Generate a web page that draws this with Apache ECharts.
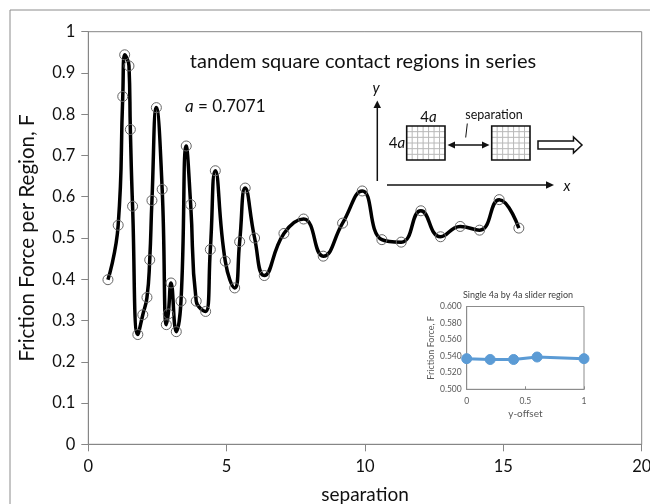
<!DOCTYPE html>
<html>
<head>
<meta charset="utf-8">
<script src="https://cdn.jsdelivr.net/npm/echarts@6/dist/echarts.min.js"></script>
<style>
html,body{margin:0;padding:0;background:#fff;}
#chart{width:650px;height:504px;}
</style>
</head>
<body>
<div id="chart"></div>
<script>
// ---- data ----
var separation = [0.71, 1.08, 1.245, 1.315, 1.47, 1.52, 1.60, 1.79, 1.97, 2.12, 2.22, 2.30, 2.46, 2.67, 2.82, 2.89, 2.99, 3.18, 3.35, 3.54, 3.70, 3.90, 4.24, 4.41, 4.59, 4.95, 5.29, 5.47, 5.67, 6.01, 6.36, 7.07, 7.78, 8.49, 9.19, 9.90, 10.61, 11.31, 12.02, 12.73, 13.44, 14.14, 14.85, 15.56];
var friction = [0.399, 0.531, 0.843, 0.944, 0.917, 0.763, 0.577, 0.266, 0.314, 0.356, 0.447, 0.591, 0.816, 0.618, 0.290, 0.316, 0.391, 0.273, 0.347, 0.723, 0.581, 0.347, 0.322, 0.472, 0.663, 0.444, 0.379, 0.491, 0.621, 0.500, 0.409, 0.511, 0.546, 0.456, 0.536, 0.614, 0.496, 0.490, 0.566, 0.503, 0.528, 0.519, 0.593, 0.524];
var yOffset = [0, 0.2, 0.4, 0.6, 1];
var singleFriction = [0.537, 0.536, 0.536, 0.539, 0.537];
var xTickLabels = ['0', '5', '10', '15', '20'];
var titleText = 'tandem square contact regions in series';
var insetTitle = 'Single 4a by 4a slider region';

var FONT = 'Lato, "Open Sans", sans-serif';
var AX = '#868686';

// diagram helper: grid squares (decoration)
function gridSquare(x, y, w, h, n, m) {
  var els = [];
  for (var i = 1; i < n; i++) {
    var gx = x + w * i / n;
    els.push({type:'line', shape:{x1:gx, y1:y, x2:gx, y2:y+h}, style:{stroke:'#b8b8b8', lineWidth:1}, z:10});
  }
  for (var j = 1; j < m; j++) {
    var gy = y + h * j / m;
    els.push({type:'line', shape:{x1:x, y1:gy, x2:x+w, y2:gy}, style:{stroke:'#b8b8b8', lineWidth:1}, z:10});
  }
  els.push({type:'rect', shape:{x:x, y:y, width:w, height:h}, style:{fill:'none', stroke:'#111', lineWidth:1.6}, z:11});
  return els;
}

var graphics = [
  {type:'rect', shape:{x:10, y:10, width:700, height:600}, style:{fill:'none', stroke:'#8c8c8c', lineWidth:1}, z:0, silent:true},
  {type:'text', x:363, y:62, style:{text:titleText, font:'20px ' + FONT, fill:'#111', textAlign:'center', textVerticalAlign:'middle'}, z:20},
  {type:'text', x:185, y:107, style:{text:'{i|a} = 0.7071', font:'17px ' + FONT, fill:'#111', textAlign:'left', textVerticalAlign:'middle', rich:{i:{fontStyle:'italic', fontSize:17, fontFamily:FONT}}}, z:20},
  // y arrow
  {type:'line', shape:{x1:377.3, y1:181, x2:377.3, y2:106}, style:{stroke:'#111', lineWidth:1.5}, z:20},
  {type:'polygon', shape:{points:[[373.5,108],[381,108],[377.3,100.5]]}, style:{fill:'#111'}, z:20},
  {type:'text', x:376, y:88, style:{text:'y', font:'italic 15px ' + FONT, fill:'#111', textAlign:'center', textVerticalAlign:'middle'}, z:20},
  // x arrow
  {type:'line', shape:{x1:387, y1:185, x2:548, y2:185}, style:{stroke:'#111', lineWidth:1.5}, z:20},
  {type:'polygon', shape:{points:[[546,181.3],[546,188.7],[554,185]]}, style:{fill:'#111'}, z:20},
  {type:'text', x:567, y:186, style:{text:'x', font:'italic 15px ' + FONT, fill:'#111', textAlign:'center', textVerticalAlign:'middle'}, z:20},
  // labels
  {type:'text', x:428.5, y:117, style:{text:'4{i|a}', font:'15px ' + FONT, fill:'#111', textAlign:'center', textVerticalAlign:'middle', rich:{i:{fontStyle:'italic', fontSize:15, fontFamily:FONT}}}, z:20},
  {type:'text', x:397, y:143, style:{text:'4{i|a}', font:'15px ' + FONT, fill:'#111', textAlign:'center', textVerticalAlign:'middle', rich:{i:{fontStyle:'italic', fontSize:15, fontFamily:FONT}}}, z:20},
  {type:'text', x:494, y:115, style:{text:'separation', font:'12.5px ' + FONT, fill:'#111', textAlign:'center', textVerticalAlign:'middle'}, z:20},
  {type:'line', shape:{x1:467.3, y1:123.5, x2:465.7, y2:137.5}, style:{stroke:'#111', lineWidth:1}, z:20},
  // double arrow
  {type:'line', shape:{x1:452, y1:145, x2:485, y2:145}, style:{stroke:'#111', lineWidth:1.5}, z:20},
  {type:'polygon', shape:{points:[[447.5,145],[455,141.5],[455,148.5]]}, style:{fill:'#111'}, z:20},
  {type:'polygon', shape:{points:[[489.5,145],[482,141.5],[482,148.5]]}, style:{fill:'#111'}, z:20},
  // hollow arrow
  {type:'polygon', shape:{points:[[538,141],[573.5,141],[573.5,137],[582,145],[573.5,153],[573.5,149],[538,149]]}, style:{fill:'#fff', stroke:'#111', lineWidth:1.5}, z:20},
  {type:'text', x:518, y:295, style:{text:insetTitle, font:'9px ' + FONT, fill:'#404040', textAlign:'center', textVerticalAlign:'middle'}, z:20}
];
graphics = graphics.concat(gridSquare(406.7, 126, 38.3, 34, 7, 6), gridSquare(491.7, 126, 38.3, 34, 7, 6));

var chart = echarts.init(document.getElementById('chart'), null, {renderer:'canvas'});
chart.setOption({
  animation: false,
  backgroundColor: '#fff',
  textStyle: {fontFamily: FONT},
  grid: [
    {left: 88.3, right: 8.3, top: 31.7, bottom: 59.7, containLabel:false, outerBoundsMode:'none', show: true, borderColor: AX, borderWidth: 1, backgroundColor: 'transparent'},
    {left: 466.7, top: 306.5, width: 117.3, height: 82.8, containLabel:false, outerBoundsMode:'none', show: true, borderColor: '#8c8c8c', borderWidth: 1, backgroundColor: '#fff'}
  ],
  xAxis: [
    {type:'value', gridIndex:0, min:0, max:20, interval:5,
     name:'separation', nameLocation:'middle', nameGap:41,
     nameTextStyle:{fontSize:19, color:'#111', fontFamily:FONT},
     axisLine:{show:true, onZero:false, lineStyle:{color:AX, width:1}},
     axisTick:{show:true, inside:false, length:7, lineStyle:{color:AX}},
     axisLabel:{fontSize:16.5, color:'#111', margin:14, formatter:function(v){return xTickLabels[Math.round(v/5)];}},
     splitLine:{show:false}},
    {type:'value', gridIndex:1, min:0, max:1, interval:0.5,
     name:'y-offset', nameLocation:'middle', nameGap:19,
     nameTextStyle:{fontSize:10, color:'#595959', fontFamily:FONT},
     axisLine:{show:true, onZero:false, lineStyle:{color:'#8c8c8c'}},
     axisTick:{show:true, inside:true, length:3, lineStyle:{color:'#8c8c8c'}},
     axisLabel:{fontSize:8.5, color:'#595959', margin:7},
     splitLine:{show:false}}
  ],
  yAxis: [
    {type:'value', gridIndex:0, min:0, max:1, interval:0.1,
     name:'Friction Force per Region, F', nameLocation:'middle', nameGap:50,
     nameTextStyle:{fontSize:20.5, color:'#111', fontFamily:FONT},
     axisLine:{show:true, onZero:false, lineStyle:{color:AX, width:1}},
     axisTick:{show:true, inside:false, length:7, lineStyle:{color:AX}},
     axisLabel:{fontSize:16.5, color:'#111', margin:13, formatter:function(v){return v===0?'0':(v===1?'1':v.toFixed(1));}},
     splitLine:{show:false}},
    {type:'value', gridIndex:1, min:0.5, max:0.6, interval:0.02,
     name:'Friction Force, F', nameLocation:'middle', nameGap:29,
     nameTextStyle:{fontSize:9, color:'#595959', fontFamily:FONT},
     axisLine:{show:true, onZero:false, lineStyle:{color:'#8c8c8c'}},
     axisTick:{show:false},
     axisLabel:{fontSize:8.5, color:'#595959', margin:5, formatter:function(v){return v.toFixed(3);}},
     splitLine:{show:false}}
  ],
  graphic: graphics,
  series: [
    {type:'line', xAxisIndex:0, yAxisIndex:0, smooth:0.5,
     data: separation.map(function(x,i){return [x, friction[i]];}),
     lineStyle:{color:'#000', width:3.5},
     symbol:'circle', symbolSize:10,
     itemStyle:{color:'rgba(0,0,0,0)', borderColor:'#666', borderWidth:1},
     z:5},
    {type:'line', xAxisIndex:1, yAxisIndex:1, smooth:false,
     data: yOffset.map(function(x,i){return [x, singleFriction[i]];}),
     lineStyle:{color:'#5b9bd5', width:3},
     symbol:'circle', symbolSize:10,
     itemStyle:{color:'#5b9bd5', borderColor:'#5b9bd5', borderWidth:1},
     z:5}
  ]
});
</script>
</body>
</html>
